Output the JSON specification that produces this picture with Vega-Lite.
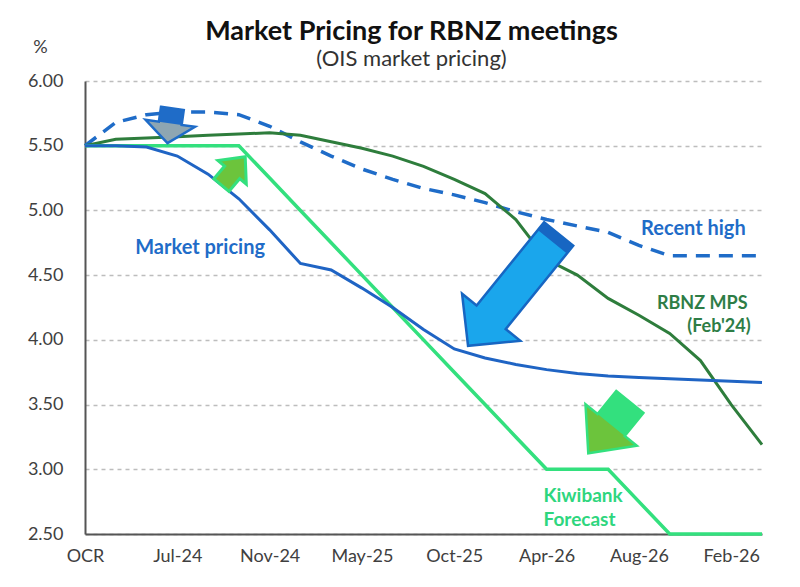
{
  "$schema": "https://vega.github.io/schema/vega-lite/v6.json",
  "width": 677,
  "height": 453,
  "autosize": {"type": "none"},
  "padding": {"left": 85, "top": 81, "right": 38, "bottom": 53},
  "background": "white",
  "title": {
    "text": "Market Pricing for RBNZ meetings",
    "subtitle": "(OIS market pricing)",
    "anchor": "middle",
    "dx": -12,
    "dy": 45,
    "offset": 12,
    "font": "Lato",
    "fontSize": 27,
    "fontWeight": "bold",
    "color": "#111111",
    "subtitleFont": "Lato",
    "subtitleFontSize": 22,
    "subtitleColor": "#333333",
    "subtitlePadding": 3
  },
  "config": {"view": {"stroke": null}, "font": "Lato"},
  "datasets": {
    "lines": [
      {"i": 0, "meeting": "OCR", "market": 5.50, "high": 5.50, "mps": 5.50, "kiwi": 5.50},
      {"i": 1, "meeting": "Apr-24", "market": 5.50, "high": 5.68, "mps": 5.55, "kiwi": 5.50},
      {"i": 2, "meeting": "May-24", "market": 5.49, "high": 5.74, "mps": 5.56, "kiwi": 5.50},
      {"i": 3, "meeting": "Jul-24", "market": 5.42, "high": 5.76, "mps": 5.57, "kiwi": 5.50},
      {"i": 4, "meeting": "Aug-24", "market": 5.28, "high": 5.76, "mps": 5.58, "kiwi": 5.50},
      {"i": 5, "meeting": "Oct-24", "market": 5.09, "high": 5.74, "mps": 5.59, "kiwi": 5.50},
      {"i": 6, "meeting": "Nov-24", "market": 4.85, "high": 5.65, "mps": 5.60, "kiwi": 5.25},
      {"i": 7, "meeting": "Feb-25", "market": 4.59, "high": 5.53, "mps": 5.58, "kiwi": 5.00},
      {"i": 8, "meeting": "Apr-25", "market": 4.54, "high": 5.42, "mps": 5.53, "kiwi": 4.75},
      {"i": 9, "meeting": "May-25", "market": 4.40, "high": 5.32, "mps": 5.48, "kiwi": 4.50},
      {"i": 10, "meeting": "Jul-25", "market": 4.25, "high": 5.24, "mps": 5.42, "kiwi": 4.25},
      {"i": 11, "meeting": "Aug-25", "market": 4.08, "high": 5.17, "mps": 5.34, "kiwi": 4.00},
      {"i": 12, "meeting": "Oct-25", "market": 3.93, "high": 5.12, "mps": 5.24, "kiwi": 3.75},
      {"i": 13, "meeting": "Nov-25", "market": 3.86, "high": 5.06, "mps": 5.13, "kiwi": 3.50},
      {"i": 14, "meeting": "Feb-26", "market": 3.81, "high": 4.99, "mps": 4.93, "kiwi": 3.25},
      {"i": 15, "meeting": "Apr-26", "market": 3.77, "high": 4.93, "mps": 4.62, "kiwi": 3.00},
      {"i": 16, "meeting": "May-26", "market": 3.74, "high": 4.88, "mps": 4.50, "kiwi": 3.00},
      {"i": 17, "meeting": "Jul-26", "market": 3.72, "high": 4.83, "mps": 4.32, "kiwi": 3.00},
      {"i": 18, "meeting": "Aug-26", "market": 3.71, "high": 4.73, "mps": 4.19, "kiwi": 2.75},
      {"i": 19, "meeting": "Oct-26", "market": 3.70, "high": 4.65, "mps": 4.05, "kiwi": 2.50},
      {"i": 20, "meeting": "Nov-26", "market": 3.69, "high": 4.65, "mps": 3.84, "kiwi": 2.50},
      {"i": 21, "meeting": "Feb-27", "market": 3.68, "high": 4.65, "mps": 3.50, "kiwi": 2.50},
      {"i": 22, "meeting": "Apr-27", "market": 3.67, "high": 4.65, "mps": 3.19, "kiwi": 2.50}
    ],
    "labels": [
      {"series": "market", "label": "Market pricing", "i": 3.74, "v": 4.71},
      {"series": "high", "label": "Recent high", "i": 19.77, "v": 4.86},
      {"series": "mps", "label": "RBNZ MPS", "i": 21.53, "v": 4.28},
      {"series": "mps", "label": "(Feb'24)", "i": 21.63, "v": 4.10},
      {"series": "kiwi", "label": "Kiwibank", "i": 14.9, "v": 2.79},
      {"series": "kiwi", "label": "Forecast", "i": 14.9, "v": 2.61}
    ],
    "arrows": [
      {"arrow": "a1", "i": 2.76, "v": 5.654},
      {"arrow": "a2", "i": 4.82, "v": 5.305},
      {"arrow": "a3", "i": 13.92, "v": 4.386},
      {"arrow": "a4", "i": 17.03, "v": 3.322}
    ]
  },
  "encoding": {
    "x": {
      "field": "i",
      "type": "quantitative",
      "scale": {"domain": [0, 22], "nice": false, "zero": false},
      "axis": {
        "title": null,
        "values": [0, 3, 6, 9, 12, 15, 18, 21],
        "labelExpr": "['OCR','Jul-24','Nov-24','May-25','Oct-25','Apr-26','Aug-26','Feb-26'][round(datum.value/3)]",
        "grid": false,
        "ticks": false,
        "domainColor": "#555555",
        "domainWidth": 2,
        "labelFont": "Lato",
        "labelFontSize": 18,
        "labelColor": "#404040",
        "labelPadding": 13,
        "labelFlush": false,
        "labelOverlap": false
      }
    },
    "y": {
      "field": "v",
      "type": "quantitative",
      "scale": {"domain": [2.5, 6], "nice": false, "zero": false},
      "axis": {
        "title": "%",
        "titleAngle": 0,
        "titleX": -45,
        "titleY": -34,
        "titleAlign": "center",
        "titleBaseline": "middle",
        "titleFont": "Lato",
        "titleFontSize": 18,
        "titleFontWeight": "normal",
        "titleColor": "#404040",
        "values": [2.5, 3, 3.5, 4, 4.5, 5, 5.5, 6],
        "format": ".2f",
        "grid": true,
        "gridDash": [4, 4],
        "gridColor": "#BDBDBD",
        "gridWidth": 1.5,
        "ticks": false,
        "domainColor": "#555555",
        "domainWidth": 2,
        "labelFont": "Lato",
        "labelFontSize": 18,
        "labelColor": "#404040",
        "labelPadding": 22,
        "labelFlush": false,
        "labelOverlap": false
      }
    }
  },
  "layer": [
    {
      "data": {"name": "lines"},
      "transform": [{"fold": ["high"], "as": ["series", "v"]}],
      "mark": {"type": "line", "color": "#1F6CC8", "strokeWidth": 3.5, "strokeDash": [14, 9]}
    },
    {
      "data": {"name": "lines"},
      "transform": [{"fold": ["mps"], "as": ["series", "v"]}],
      "mark": {"type": "line", "color": "#2E7D3C", "strokeWidth": 3}
    },
    {
      "data": {"name": "lines"},
      "transform": [{"fold": ["kiwi"], "as": ["series", "v"]}],
      "mark": {"type": "line", "color": "#33E07E", "strokeWidth": 3.5}
    },
    {
      "data": {"name": "lines"},
      "transform": [{"fold": ["market"], "as": ["series", "v"]}],
      "mark": {"type": "line", "color": "#1F64C4", "strokeWidth": 3}
    },
    {
      "data": {"name": "labels"},
      "transform": [{"filter": "datum.series == 'market' || datum.series == 'high'"}],
      "mark": {"type": "text", "align": "center", "baseline": "middle", "font": "Lato", "fontSize": 20, "fontWeight": "bold", "color": "#1F6CC8"},
      "encoding": {"text": {"field": "label", "type": "nominal"}}
    },
    {
      "data": {"name": "labels"},
      "transform": [{"filter": "datum.series == 'mps'"}],
      "mark": {"type": "text", "align": "right", "baseline": "middle", "font": "Lato", "fontSize": 18, "fontWeight": "bold", "color": "#2E7D46"},
      "encoding": {"text": {"field": "label", "type": "nominal"}}
    },
    {
      "data": {"name": "labels"},
      "transform": [{"filter": "datum.series == 'kiwi'"}],
      "mark": {"type": "text", "align": "left", "baseline": "middle", "font": "Lato", "fontSize": 19, "fontWeight": "bold", "color": "#2ED67E"},
      "encoding": {"text": {"field": "label", "type": "nominal"}}
    },
    {
      "data": {"name": "arrows"},
      "transform": [{"filter": "datum.arrow == 'a1'"}],
      "mark": {"type": "point", "shape": "M -0.46 -0.7 L 0.46 -0.7 L 0.46 -0.1 L 1 -0.1 L 0 0.7 L -1 -0.1 L -0.46 -0.1 Z", "size": 2500, "angle": 8, "filled": true, "fill": "#8EA6B2", "stroke": "#1F6CC8", "strokeWidth": 2.5, "opacity": 1}
    },
    {
      "data": {"name": "arrows"},
      "transform": [{"filter": "datum.arrow == 'a1'"}],
      "mark": {"type": "point", "shape": "M -0.46 -0.7 L 0.46 -0.7 L 0.46 -0.1 L -0.46 -0.1 Z", "size": 2500, "angle": 8, "filled": true, "fill": "#1F6CC8", "strokeWidth": 0, "opacity": 1}
    },
    {
      "data": {"name": "arrows"},
      "transform": [{"filter": "datum.arrow == 'a2'"}],
      "mark": {"type": "point", "shape": "M -0.53 -1 L 0.53 -1 L 0.53 -0.1 L 1 -0.1 L 0 1 L -1 -0.1 L -0.53 -0.1 Z", "size": 1369, "angle": 220, "filled": true, "fill": "#6CC43C", "stroke": "#33E07E", "strokeWidth": 3, "opacity": 1}
    },
    {
      "data": {"name": "arrows"},
      "transform": [{"filter": "datum.arrow == 'a3'"}],
      "mark": {"type": "point", "shape": "M -0.26 -1 L 0.26 -1 L 0.26 0.49 L 0.52 0.49 L 0 1 L -0.52 0.49 L -0.26 0.49 Z", "size": 20736, "angle": 39, "filled": true, "fill": "#1AA6EC", "stroke": "#1766C2", "strokeWidth": 2.5, "opacity": 1}
    },
    {
      "data": {"name": "arrows"},
      "transform": [{"filter": "datum.arrow == 'a3'"}],
      "mark": {"type": "point", "shape": "M -0.26 -1 L 0.26 -1 L 0.26 -0.86 L -0.26 -0.86 Z", "size": 20736, "angle": 39, "filled": true, "fill": "#1766C2", "strokeWidth": 0, "opacity": 1}
    },
    {
      "data": {"name": "arrows"},
      "transform": [{"filter": "datum.arrow == 'a4'"}],
      "mark": {"type": "point", "shape": "M -0.53 -1 L 0.53 -1 L 0.53 -0.1 L 1 -0.1 L 0 1 L -1 -0.1 L -0.53 -0.1 Z", "size": 4356, "angle": 39, "filled": true, "fill": "#6CC43C", "stroke": "#33E07E", "strokeWidth": 2.5, "opacity": 1}
    },
    {
      "data": {"name": "arrows"},
      "transform": [{"filter": "datum.arrow == 'a4'"}],
      "mark": {"type": "point", "shape": "M -0.53 -1 L 0.53 -1 L 0.53 -0.1 L -0.53 -0.1 Z", "size": 4356, "angle": 39, "filled": true, "fill": "#33E07E", "strokeWidth": 0, "opacity": 1}
    }
  ]
}
